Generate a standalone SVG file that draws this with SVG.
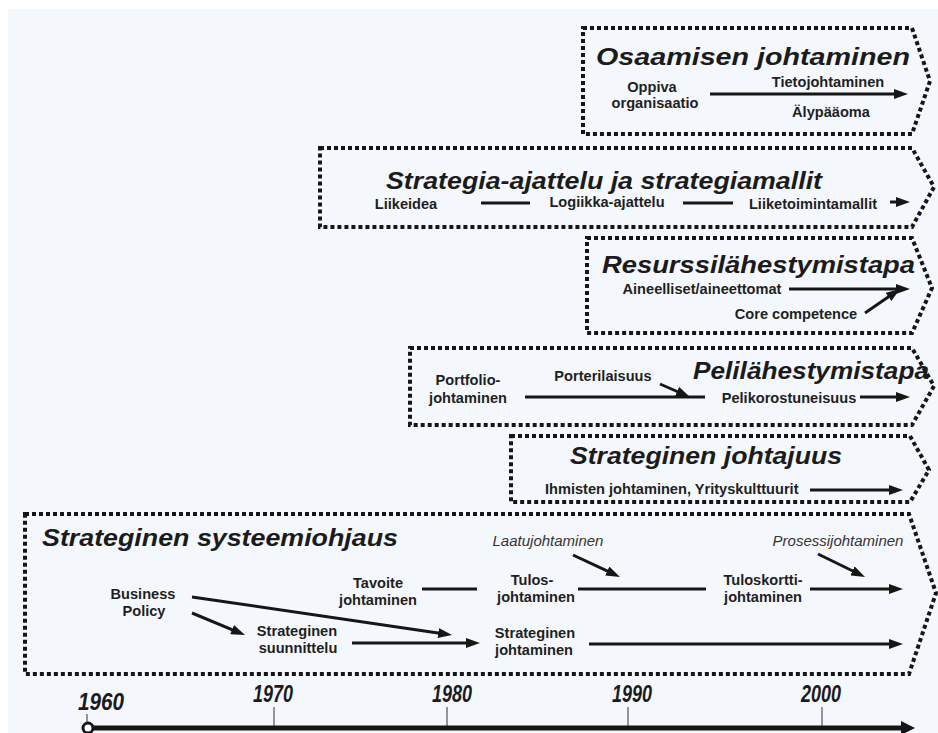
<svg xmlns="http://www.w3.org/2000/svg" width="938" height="733" viewBox="0 0 938 733">
  <style>
    .frame { fill: none; stroke: #161616; stroke-width: 4; stroke-dasharray: 4 3; }
    .title { font-family: "Liberation Sans", Arial, sans-serif; font-weight: bold; font-style: italic; font-size: 24px; fill: #1b1b1b; }
    .lbl { font-family: "Liberation Sans", Arial, sans-serif; font-weight: bold; font-size: 14.6px; fill: #1f1f1f; text-anchor: middle; }
    .lbl-start { font-family: "Liberation Sans", Arial, sans-serif; font-weight: bold; font-size: 14.6px; fill: #1f1f1f; text-anchor: start; }
    .note { font-family: "Liberation Sans", Arial, sans-serif; font-style: italic; font-size: 15px; fill: #333; text-anchor: middle; }
    .year { font-family: "Liberation Sans Narrow", "Liberation Sans", Arial, sans-serif; font-weight: bold; font-style: italic; font-size: 23px; fill: #1b1b1b; text-anchor: middle; }
    .link { stroke: #161616; stroke-width: 3; fill: none; }
    .arr { marker-end: url(#head); }
    .tick { stroke: #333; stroke-width: 1; }
  </style>
  <defs>
    <marker id="head" markerUnits="userSpaceOnUse" markerWidth="14" markerHeight="10" refX="5" refY="5" orient="auto">
      <path d="M0,0 L14,5 L0,10 Z" fill="#161616"/>
    </marker>
    <marker id="axishead" markerUnits="userSpaceOnUse" markerWidth="14" markerHeight="14" refX="4" refY="7" orient="auto">
      <path d="M0,0 L14,7 L0,14 Z" fill="#161616"/>
    </marker>
  </defs>

  <!-- page background -->
  <rect x="8" y="9" width="930" height="724" fill="#f4f8fc"/>

  <!-- Osaamisen johtaminen -->
  <g id="osaamisen-johtaminen">
    <path class="frame" d="M583,28 H912 L930,81 L912,134 H583 Z"/>
    <text class="title" x="596" y="65" textLength="314" lengthAdjust="spacingAndGlyphs">Osaamisen johtaminen</text>
    <text class="lbl" x="652" y="92">Oppiva</text>
    <text class="lbl" x="655" y="108">organisaatio</text>
    <text class="lbl" x="828" y="87">Tietojohtaminen</text>
    <text class="lbl" x="831" y="117">Älypääoma</text>
  </g>

  <!-- Strategia-ajattelu ja strategiamallit -->
  <g id="strategia-ajattelu">
    <path class="frame" d="M320,148 H912 L934,187 L912,227 H320 Z"/>
    <text class="title" x="386" y="189" textLength="436" lengthAdjust="spacingAndGlyphs">Strategia-ajattelu ja strategiamallit</text>
    <text class="lbl" x="406" y="209">Liikeidea</text>
    <text class="lbl" x="607" y="207">Logiikka-ajattelu</text>
    <text class="lbl" x="813" y="209">Liiketoimintamallit</text>
  </g>

  <!-- Resurssilähestymistapa -->
  <g id="resurssilahestymistapa">
    <path class="frame" d="M587,238 H912 L932,288 L912,333 H587 Z"/>
    <text class="title" x="602" y="273" textLength="313" lengthAdjust="spacingAndGlyphs">Resurssilähestymistapa</text>
    <text class="lbl" x="702" y="294">Aineelliset/aineettomat</text>
    <text class="lbl" x="796" y="319">Core competence</text>
  </g>

  <!-- Pelilähestymistapa -->
  <g id="pelilahestymistapa">
    <path class="frame" d="M410,348 H912 L934,386 L912,425 H410 Z"/>
    <text class="title" x="929" y="379" text-anchor="end" textLength="236" lengthAdjust="spacingAndGlyphs">Pelilähestymistapa</text>
    <text class="lbl" x="468" y="385">Portfolio-</text>
    <text class="lbl" x="468" y="403">johtaminen</text>
    <text class="lbl" x="603" y="381">Porterilaisuus</text>
    <text class="lbl" x="789" y="403">Pelikorostuneisuus</text>
  </g>

  <!-- Strateginen johtajuus -->
  <g id="strateginen-johtajuus">
    <path class="frame" d="M511,436 H910 L929,470 L910,502 H511 Z"/>
    <text class="title" x="570" y="464" textLength="272" lengthAdjust="spacingAndGlyphs">Strateginen johtajuus</text>
    <text class="lbl-start" x="545" y="494">Ihmisten johtaminen, Yrityskulttuurit</text>
  </g>

  <!-- Strateginen systeemiohjaus -->
  <g id="strateginen-systeemiohjaus">
    <path class="frame" d="M25,514 H909 L936,593 L909,674 H25 Z"/>
    <text class="title" x="42" y="546" textLength="356" lengthAdjust="spacingAndGlyphs">Strateginen systeemiohjaus</text>
    <text class="note" x="548" y="546">Laatujohtaminen</text>
    <text class="note" x="838" y="546">Prosessijohtaminen</text>
    <text class="lbl" x="143" y="599">Business</text>
    <text class="lbl" x="144" y="616">Policy</text>
    <text class="lbl" x="378" y="588">Tavoite</text>
    <text class="lbl" x="378" y="605">johtaminen</text>
    <text class="lbl" x="532" y="585">Tulos-</text>
    <text class="lbl" x="536" y="602">johtaminen</text>
    <text class="lbl" x="763" y="585">Tuloskortti-</text>
    <text class="lbl" x="763" y="602">johtaminen</text>
    <text class="lbl" x="297" y="636">Strateginen</text>
    <text class="lbl" x="298" y="653">suunnittelu</text>
    <text class="lbl" x="535" y="638">Strateginen</text>
    <text class="lbl" x="534" y="655">johtaminen</text>
  </g>

  <!-- connectors -->
  <g id="connectors">
    <!-- Osaamisen johtaminen -->
    <line class="link arr" x1="710" y1="94" x2="899" y2="94"/>
    <!-- Strategia-ajattelu -->
    <line class="link" x1="481" y1="203" x2="530" y2="203"/>
    <line class="link" x1="683" y1="203" x2="733" y2="203"/>
    <line class="link arr" x1="890" y1="202" x2="901" y2="202"/>
    <!-- Resurssilähestymistapa -->
    <line class="link arr" x1="789" y1="289" x2="901" y2="289"/>
    <line class="link arr" x1="865" y1="313" x2="892.6" y2="294.1"/>
    <!-- Pelilähestymistapa -->
    <line class="link" x1="525" y1="397" x2="705" y2="397"/>
    <line class="link arr" x1="660" y1="384" x2="681.7" y2="393.5"/>
    <line class="link arr" x1="860" y1="397" x2="901" y2="397"/>
    <!-- Strateginen johtajuus -->
    <line class="link arr" x1="810" y1="490" x2="894" y2="490"/>
    <!-- Strateginen systeemiohjaus -->
    <line class="link arr" x1="573" y1="555" x2="611.8" y2="573.2"/>
    <line class="link arr" x1="818" y1="554" x2="856.9" y2="573"/>
    <line class="link" x1="422" y1="589" x2="477" y2="589"/>
    <line class="link" x1="578" y1="589" x2="706" y2="589"/>
    <line class="link arr" x1="810" y1="589" x2="894" y2="589"/>
    <line class="link arr" x1="192" y1="597" x2="443.1" y2="633.7"/>
    <line class="link arr" x1="192" y1="613" x2="236.7" y2="631.6"/>
    <line class="link arr" x1="352" y1="643" x2="471" y2="643"/>
    <line class="link arr" x1="589" y1="644" x2="894" y2="644"/>
  </g>

  <!-- time axis -->
  <g id="time-axis">
    <line class="tick" x1="87" y1="714" x2="87" y2="727"/>
    <line class="tick" x1="274" y1="707" x2="274" y2="727"/>
    <line class="tick" x1="447" y1="707" x2="447" y2="727"/>
    <line class="tick" x1="628" y1="707" x2="628" y2="727"/>
    <line class="tick" x1="822" y1="707" x2="822" y2="727"/>
    <line x1="88" y1="728" x2="905" y2="728" stroke="#161616" stroke-width="5" marker-end="url(#axishead)"/>
    <circle cx="88" cy="728" r="5" fill="#fff" stroke="#161616" stroke-width="3"/>
    <text class="year" x="101" y="710" textLength="46" lengthAdjust="spacingAndGlyphs">1960</text>
    <text class="year" x="273" y="702" textLength="40" lengthAdjust="spacingAndGlyphs">1970</text>
    <text class="year" x="452" y="702" textLength="40" lengthAdjust="spacingAndGlyphs">1980</text>
    <text class="year" x="632" y="702" textLength="40" lengthAdjust="spacingAndGlyphs">1990</text>
    <text class="year" x="821" y="702" textLength="40" lengthAdjust="spacingAndGlyphs">2000</text>
  </g>
</svg>
